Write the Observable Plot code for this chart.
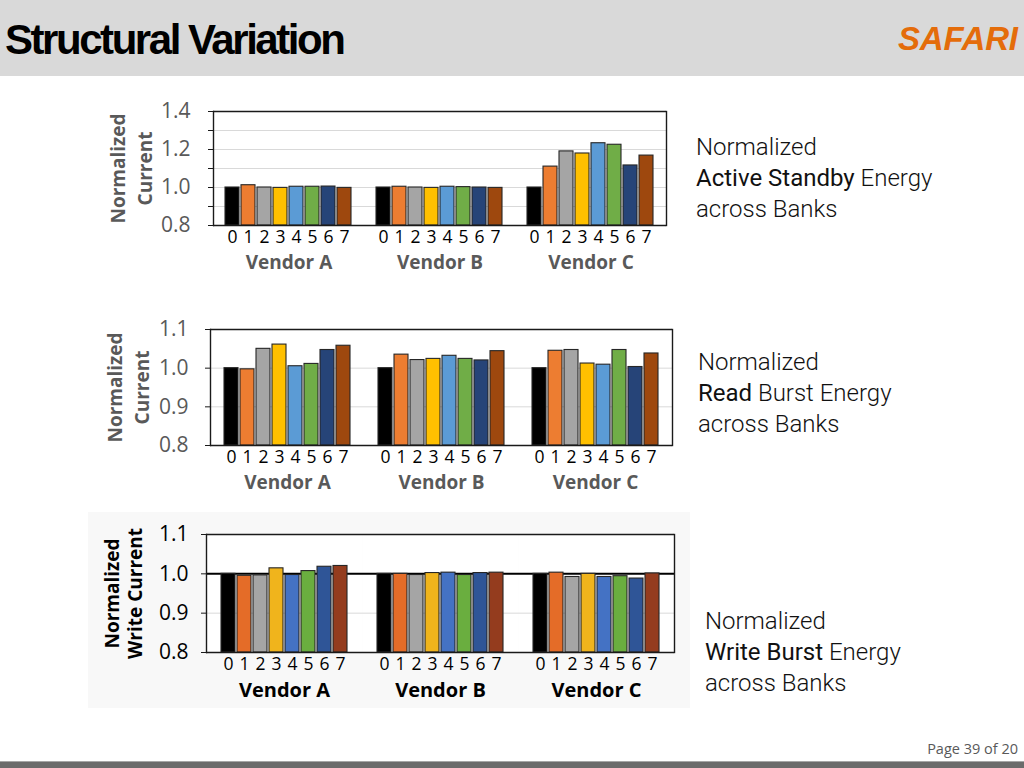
<!DOCTYPE html>
<html>
<head>
<meta charset="utf-8">
<script src="https://cdn.jsdelivr.net/npm/d3@7"></script>
<script src="https://cdn.jsdelivr.net/npm/@observablehq/plot@0.6"></script>
<style>
  html, body { margin: 0; padding: 0; background: #ffffff; }
  body { width: 1024px; height: 768px; position: relative; overflow: hidden; font-family: "Open Sans", sans-serif; }
  #header { position: absolute; left: 0; top: 0; width: 1024px; height: 76px; background: #d9d9d9; }
  #title { position: absolute; left: 5px; top: 16px; font-family: "Liberation Sans", Arial, sans-serif; font-weight: bold; font-size: 42px; letter-spacing: -2.45px; color: #000; white-space: nowrap; }
  #logo { position: absolute; left: 898px; top: 20px; font-family: "Liberation Sans", Arial, sans-serif; font-weight: bold; font-style: italic; font-size: 33px; color: #e46c0a; letter-spacing: -0.2px; }
  .chart { position: absolute; }
  .chart svg { overflow: visible; }
  .side { position: absolute; font-family: Roboto, "Liberation Sans", sans-serif; font-weight: 300; font-size: 24px; line-height: 31px; color: #111; white-space: nowrap; }
  .side b { font-weight: 400; }
  #page { position: absolute; right: 6px; top: 739px; font-family: "Open Sans", sans-serif; font-size: 14.5px; color: #595959; }
  #footline { position: absolute; left: 0; top: 761px; width: 1024px; height: 1px; background: #a6a6a6; }
  #footbar { position: absolute; left: 0; top: 762px; width: 1024px; height: 6px; background: #6b6b6b; }
  #box3 { position: absolute; left: 88px; top: 512px; width: 602px; height: 196px; background: #f8f8f8; }
</style>
</head>
<body>
<div id="header"></div>
<div id="title">Structural Variation</div>
<div id="logo">SAFARI</div>
<div id="box3"></div>
<div id="c1" class="chart" style="left:90px; top:95px;"></div>
<div id="c2" class="chart" style="left:90px; top:313px;"></div>
<div id="c3" class="chart" style="left:88px; top:512px;"></div>
<div class="side" style="left:696px; top:132px;">Normalized<br><b>Active Standby</b> Energy<br>across Banks</div>
<div class="side" style="left:698px; top:347px;">Normalized<br><b>Read</b> Burst Energy<br>across Banks</div>
<div class="side" style="left:705px; top:606px;">Normalized<br><b>Write Burst</b> Energy<br>across Banks</div>
<div id="page">Page 39 of 20</div>
<div id="footline"></div>
<div id="footbar"></div>
<script>
// ---- data ----
const banks = ["0", "1", "2", "3", "4", "5", "6", "7"];
const vendors = ["Vendor A", "Vendor B", "Vendor C"];

// Active standby (normalized current)
const standbyA = [1.000, 1.012, 1.000, 0.998, 1.004, 1.004, 1.005, 0.998];
const standbyB = [1.000, 1.004, 1.000, 0.998, 1.004, 1.002, 1.000, 0.998];
const standbyC = [1.000, 1.110, 1.190, 1.179, 1.233, 1.225, 1.116, 1.168];

// Read burst (normalized current)
const readA = [1.000, 0.997, 1.050, 1.061, 1.005, 1.011, 1.047, 1.058];
const readB = [1.000, 1.035, 1.021, 1.024, 1.032, 1.024, 1.020, 1.044];
const readC = [1.000, 1.045, 1.047, 1.012, 1.009, 1.047, 1.003, 1.038];

// Write burst (normalized write current)
const writeA = [1.000, 0.995, 0.996, 1.014, 0.997, 1.007, 1.018, 1.020];
const writeB = [1.000, 1.000, 0.997, 1.002, 1.003, 0.997, 1.002, 1.003];
const writeC = [1.000, 1.003, 0.992, 1.000, 0.992, 0.994, 0.988, 1.001];

// axis ticks and labels
const standbyTicks = [0.8, 0.9, 1.0, 1.1, 1.2, 1.3, 1.4];
const standbyTickLabels = ["0.8", "1.0", "1.2", "1.4"];
const burstTicks = [0.8, 0.9, 1.0, 1.1];
const burstTickLabels = ["0.8", "0.9", "1.0", "1.1"];

// palettes
const paletteOffice = ["#000000", "#ED7D31", "#A5A5A5", "#FFC000", "#5B9BD5", "#70AD47", "#264478", "#9E480E"];
const paletteWrite = ["#000000", "#E46C28", "#A5A5A5", "#F0B41C", "#4472C4", "#6AAE3F", "#2F5597", "#943C1E"];

function toRows(series) {
  const rows = [];
  series.forEach((vals, i) => vals.forEach((v, j) => rows.push({vendor: vendors[i], bank: banks[j], value: v})));
  return rows;
}

function chart(o) {
  const labelSet = new Set(o.tickLabels);
  const marks = [
    Plot.frame({fill: "white", stroke: "none"}),
    Plot.ruleY(o.grid, {stroke: "#d9d9d9", strokeWidth: 1}),
  ];
  if (o.baseRule) marks.push(Plot.ruleY([1.0], {stroke: "#000", strokeWidth: 2}));
  marks.push(
    Plot.barY(o.rows, {fx: "vendor", x: "bank", y1: 0.8, y2: "value", fill: "bank", stroke: "#262626", strokeWidth: 1.1}),
    Plot.ruleY([o.yDomain[0], o.yDomain[1]], {stroke: "#1a1a1a", strokeWidth: 1.4}),
    Plot.frame({anchor: "left", facetAnchor: "left", stroke: "#1a1a1a", strokeWidth: 1.4}),
    Plot.frame({anchor: "right", facetAnchor: "right", stroke: "#1a1a1a", strokeWidth: 1.4}),
    Plot.axisY({anchor: "left", ticks: o.ticks, tickSize: 5, tickPadding: o.yPad,
      tickFormat: d => labelSet.has(d.toFixed(1)) ? d.toFixed(1) : "",
      fontSize: o.yFont, fill: o.tickColor, stroke: "#1a1a1a", label: null}),
    Plot.axisX({tickSize: 0, tickPadding: 5, fontSize: o.digitFont, fill: o.digitColor, label: null}),
    Plot.text(vendors, {fx: d => d, text: d => d, frameAnchor: "bottom", lineAnchor: "middle", dy: o.vendorDy,
      fontWeight: "bold", fontSize: o.vendorFont, fill: o.labelColor}),
    Plot.text([o.yTitle], {fx: () => "Vendor A", text: d => d, frameAnchor: "left", textAnchor: "middle",
      lineAnchor: "middle", rotate: -90,
      dx: o.titleDx, fontWeight: "bold", fontSize: o.titleFont, lineHeight: o.titleLH, fill: o.labelColor})
  );
  return Plot.plot({
    width: o.width, height: o.height,
    marginLeft: o.ml, marginRight: o.mr, marginTop: o.mt, marginBottom: o.mb,
    style: {fontFamily: "'Open Sans', sans-serif", background: "transparent", overflow: "visible"},
    fx: {domain: vendors, padding: 0, axis: null},
    x: {domain: banks, paddingInner: 0.12, paddingOuter: 0.72},
    y: {domain: o.yDomain},
    color: {domain: banks, range: o.palette},
    marks
  });
}

document.getElementById("c1").append(chart({
  rows: toRows([standbyA, standbyB, standbyC]), palette: paletteOffice,
  yDomain: [0.8, 1.4], ticks: standbyTicks, tickLabels: standbyTickLabels,
  grid: [0.9, 1.0, 1.1, 1.2, 1.3], baseRule: false,
  width: 586, height: 180, ml: 122, mr: 10, mt: 16, mb: 50,
  yPad: 18, yFont: 21, tickColor: "#595959", digitFont: 17.5, digitColor: "#000",
  vendorDy: 37, vendorFont: 19, labelColor: "#595959",
  yTitle: "Normalized\nCurrent", titleDx: -84, titleFont: 19, titleLH: 1.45
}));

document.getElementById("c2").append(chart({
  rows: toRows([readA, readB, readC]), palette: paletteOffice,
  yDomain: [0.8, 1.1], ticks: burstTicks, tickLabels: burstTickLabels,
  grid: [0.9, 1.0], baseRule: false,
  width: 593, height: 182, ml: 119, mr: 10, mt: 16, mb: 50,
  yPad: 17, yFont: 21, tickColor: "#595959", digitFont: 17.5, digitColor: "#000",
  vendorDy: 37, vendorFont: 19, labelColor: "#595959",
  yTitle: "Normalized\nCurrent", titleDx: -84, titleFont: 19, titleLH: 1.45
}));

document.getElementById("c3").append(chart({
  rows: toRows([writeA, writeB, writeC]), palette: paletteWrite,
  yDomain: [0.8, 1.1], ticks: burstTicks, tickLabels: burstTickLabels,
  grid: [0.9], baseRule: true,
  width: 602, height: 196, ml: 117, mr: 15, mt: 22, mb: 56,
  yPad: 13, yFont: 21, tickColor: "#000", digitFont: 17.5, digitColor: "#000",
  vendorDy: 38, vendorFont: 20, labelColor: "#000",
  yTitle: "Normalized\nWrite Current", titleDx: -83, titleFont: 19, titleLH: 1.2
}));
</script>
</body>
</html>
